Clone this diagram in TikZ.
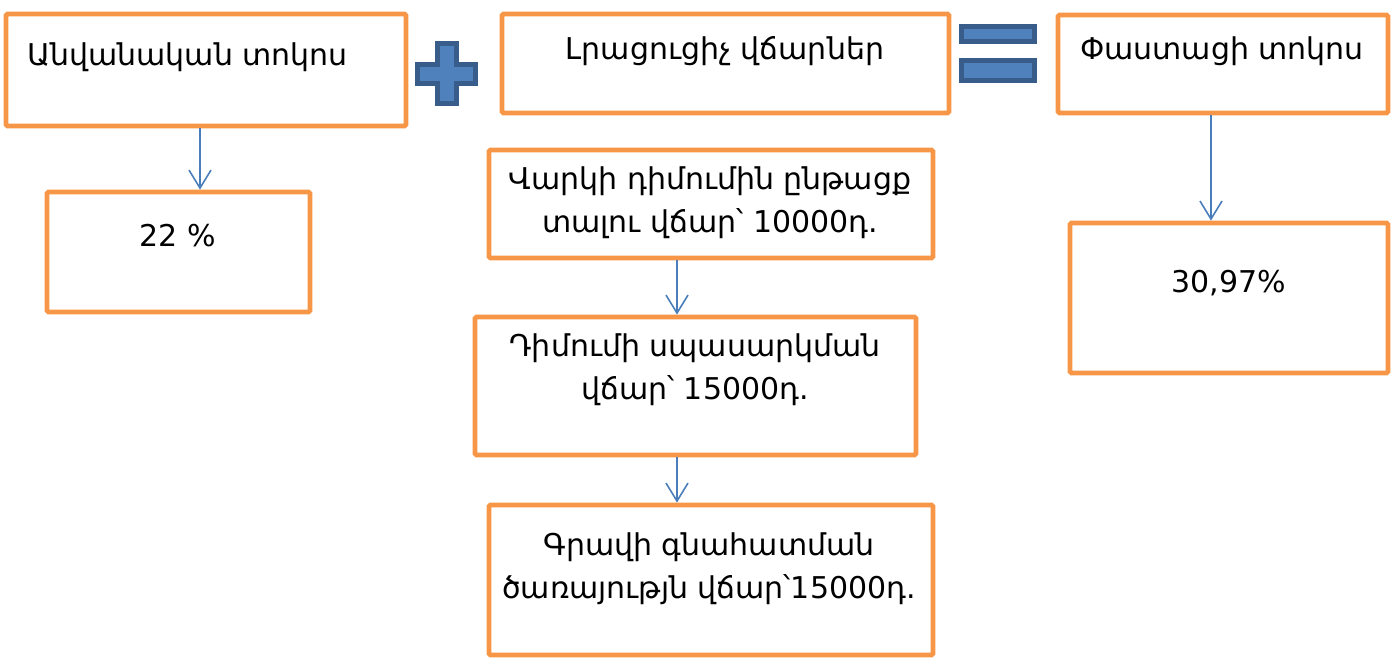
\documentclass[tikz,border=0pt]{standalone}
\usepackage{fontspec}
\setmainfont{DejaVu Sans}
\usetikzlibrary{arrows.meta}
\definecolor{boxorange}{HTML}{F79646}
\definecolor{flowblue}{HTML}{4A7EBB}
\definecolor{signfill}{HTML}{4F81BD}
\definecolor{signedge}{HTML}{385D8A}
\tikzset{
  ratebox/.style={draw=boxorange, line width=2.4pt, rounded corners=0.8pt, inner sep=0pt},
  boxtext/.style={font=\fontsize{15}{21.5}\selectfont, align=center, inner sep=0pt, anchor=base},
  flow/.style={draw=flowblue, line width=0.8pt, -{Straight Barb[length=9pt,width=11pt]}},
  signshape/.style={fill=signfill, draw=signedge, line width=2.5pt}
}
\begin{document}
\begin{tikzpicture}[x=0.5pt,y=-0.5pt]
  \useasboundingbox (0,0) rectangle (1394,663);
  % top row
  \node[ratebox, minimum width=200pt, minimum height=56pt] (nominal) at (206,70) {};
  \node[boxtext, anchor=base west] (nominaltxt) at (27,66) {Անվանական տոկոս};
  \node[ratebox, minimum width=223.5pt, minimum height=49.5pt] (extra) at (725.5,63.5) {};
  \node[boxtext] (extratxt) at (725,60) {Լրացուցիչ վճարներ};
  \node[ratebox, minimum width=165pt, minimum height=49pt] (actual) at (1223,64) {};
  \node[boxtext] (actualtxt) at (1222,60) {Փաստացի տոկոս};
  % plus and equals
  \draw[signshape] (437.5,43.5) -- (456.5,43.5) -- (456.5,64.5) -- (475.5,64.5)
    -- (475.5,83.5) -- (456.5,83.5) -- (456.5,103.5) -- (437.5,103.5) -- (437.5,83.5)
    -- (417.5,83.5) -- (417.5,64.5) -- (437.5,64.5) -- cycle;
  \draw[signshape] (961.5,26.5) rectangle (1034.5,41.5);
  \draw[signshape] (961.5,60.5) rectangle (1034.5,80.5);
  % values
  \node[ratebox, minimum width=131.5pt, minimum height=60pt] (nompct) at (178.5,252) {};
  \node[boxtext] (nompcttxt) at (177.5,247) {22 \%};
  \node[ratebox, minimum width=159pt, minimum height=75pt] (actpct) at (1229,298) {};
  \node[boxtext] (actpcttxt) at (1229,293) {30,97\%};
  % fees (base is the last line)
  \node[ratebox, minimum width=222pt, minimum height=54pt] (feeone) at (711,204) {};
  \node[boxtext] (feeonetxt) at (710,233) {Վարկի դիմումին ընթացք\\տալու վճար՝ 10000դ.};
  \node[ratebox, minimum width=220.5pt, minimum height=69pt] (feetwo) at (695.5,386) {};
  \node[boxtext] (feetwotxt) at (695,400) {Դիմումի սպասարկման\\վճար՝ 15000դ.};
  \node[ratebox, minimum width=222pt, minimum height=75pt] (feethree) at (711,580) {};
  \node[boxtext] (feethreetxt) at (709,598) {Գրավի գնահատման\\ծառայությն վճար՝15000դ.};
  % arrows
  \coordinate (leftx) at (200,0);
  \coordinate (midx) at (677,0);
  \coordinate (rightx) at (1211,0);
  \draw[flow] (nominal.south -| leftx) -- (nompct.north -| leftx);
  \draw[flow] (feeone.south -| midx) -- (feetwo.north -| midx);
  \draw[flow] (feetwo.south -| midx) -- (feethree.north -| midx);
  \draw[flow] (actual.south -| rightx) -- (actpct.north -| rightx);
\end{tikzpicture}
\end{document}
